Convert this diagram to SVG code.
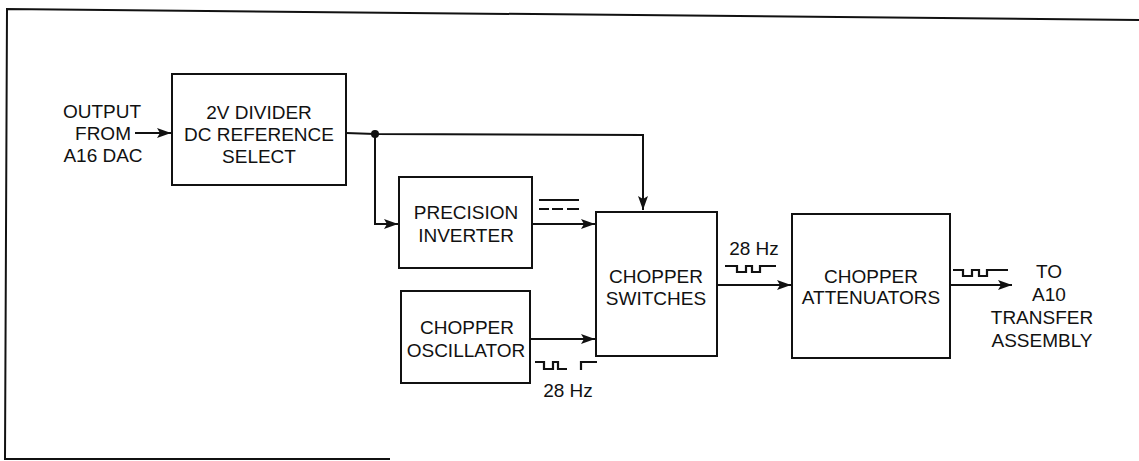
<svg xmlns="http://www.w3.org/2000/svg" width="1139" height="461" viewBox="0 0 1139 461">
<style>
.box{fill:#fff;stroke:#111;stroke-width:2}
.ln{fill:none;stroke:#111;stroke-width:2}
.wv{fill:none;stroke:#111;stroke-width:2.2}
text{font-family:"Liberation Sans",Arial,sans-serif;font-size:19px;fill:#111;text-anchor:middle}
</style>
<defs>
<marker id="ah" viewBox="0 0 14 10" refX="14" refY="5" markerWidth="14" markerHeight="10" markerUnits="userSpaceOnUse" orient="auto">
<path d="M0,0 L14,5 L0,10 L3,5 Z" fill="#111"/>
</marker>
</defs>
<rect width="1139" height="461" fill="#fff"/>
<g id="frame">
<path class="ln" d="M1139,20 L7,9 L5,459 L390,459" stroke-width="1.6"/>
</g>
<g id="connectors">
<path class="ln" d="M135,133 H171" marker-end="url(#ah)"/>
<path class="ln" d="M346,133 L375,134 L643,135 V210" marker-end="url(#ah)"/>
<circle cx="375" cy="134" r="4" fill="#111"/>
<path class="ln" d="M375,134 V224 H398" marker-end="url(#ah)"/>
<path class="ln" d="M532,224 H595" marker-end="url(#ah)"/>
<path class="ln" d="M530,339 H595" marker-end="url(#ah)"/>
<path class="ln" d="M717,285 H791" marker-end="url(#ah)"/>
<path class="ln" d="M950,285 H1012" marker-end="url(#ah)"/>
<path class="ln" d="M539,200 H579"/>
<path class="ln" d="M539,209 H549 M552,209 H563 M567,209 H579"/>
<path class="wv" d="M535,362 H544 V369 H553 V362 H558 V369 H567 M581,370 V362 H597"/>
<path class="wv" d="M725,266 H737 V272 H746 V266 H752 V272 H760 V266 H776"/>
<path class="wv" d="M953,270 H963 V276 H972 V270 H979 V276 H987 V270 H1008"/>
</g>
<g id="input-label">
<text x="102" y="118">OUTPUT</text>
<text x="103" y="140">FROM</text>
<text x="103" y="162">A16 DAC</text>
</g>
<g id="divider">
<rect class="box" x="172" y="74" width="174" height="111"/>
<text x="259" y="119">2V DIVIDER</text>
<text x="259" y="141">DC REFERENCE</text>
<text x="259" y="163">SELECT</text>
</g>
<g id="inverter">
<rect class="box" x="399" y="177" width="133" height="91"/>
<text x="466" y="219">PRECISION</text>
<text x="466" y="242">INVERTER</text>
</g>
<g id="oscillator">
<rect class="box" x="401" y="291" width="129" height="92"/>
<text x="467" y="334">CHOPPER</text>
<text x="466" y="357">OSCILLATOR</text>
</g>
<g id="switches">
<rect class="box" x="596" y="212" width="121" height="144"/>
<text x="656" y="283">CHOPPER</text>
<text x="656" y="305">SWITCHES</text>
</g>
<g id="attenuators">
<rect class="box" x="792" y="214" width="158" height="144"/>
<text x="871" y="283">CHOPPER</text>
<text x="871" y="304">ATTENUATORS</text>
</g>
<g id="labels">
<text x="568" y="397">28 Hz</text>
<text x="754" y="255">28 Hz</text>
<text x="1049" y="278">TO</text>
<text x="1049" y="301">A10</text>
<text x="1042" y="324">TRANSFER</text>
<text x="1042" y="347">ASSEMBLY</text>
</g>
</svg>
